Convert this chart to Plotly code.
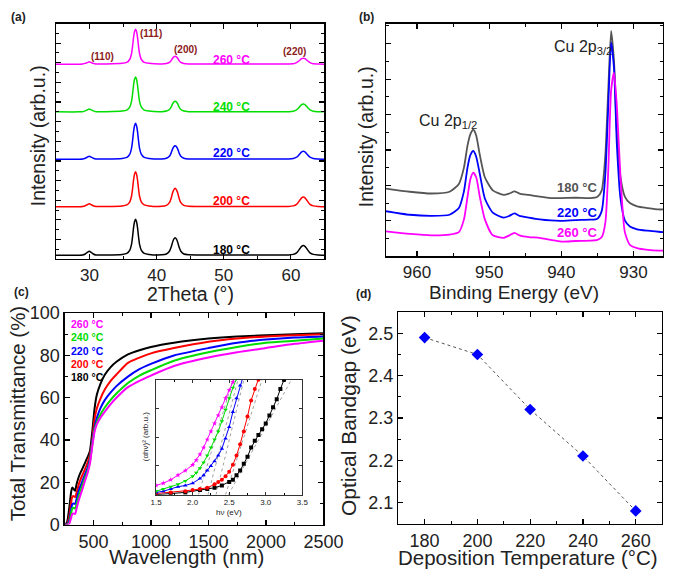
import plotly.graph_objects as go

W, H = 685, 580


def px(x):
    return x / W


def py(y):
    return 1 - y / H


FONT = "Liberation Sans, Arial, sans-serif"

# ---------------- data ----------------
temps = ["180 °C", "200 °C", "220 °C", "240 °C", "260 °C"]
colors = ["#000000", "#ff0000", "#0000ff", "#00dd00", "#ff00ff"]

# (a) XRD
two_theta = [25, 28.5, 28.95, 29.35, 29.65, 29.95, 30.25, 30.55, 30.95, 32.5,
             34.85, 35.55, 36.0, 36.25, 36.4, 36.55, 36.7, 36.85, 37.0, 37.15, 37.3, 37.45, 37.7,
             38.15, 38.85,
             40.75, 41.45, 41.9, 42.15, 42.35, 42.55, 42.75, 42.95, 43.15, 43.35, 43.6, 44.05, 44.75,
             47, 52, 57,
             59.65, 60.35, 60.85, 61.1, 61.35, 61.6, 61.85, 62.1, 62.35, 62.6, 62.85, 63.35, 64.05, 65]
xrd_180 = [0, 0, 0.01, 0.06, 0.14, 0.2, 0.14, 0.06, 0.01, 0.01,
           0.04, 0.09, 0.26, 0.55, 0.92, 1.39, 1.70, 1.83, 1.70, 1.39, 0.92, 0.55, 0.26, 0.09, 0.04,
           0.02, 0.06, 0.2, 0.4, 0.64, 0.82, 0.89, 0.82, 0.64, 0.4, 0.2, 0.06, 0.02,
           0.01, 0.01, 0.01,
           0.01, 0.04, 0.12, 0.22, 0.34, 0.45, 0.49, 0.45, 0.34, 0.22, 0.12, 0.04, 0.01, 0]
xrd_200 = [0, 0, 0.01, 0.05, 0.1, 0.15, 0.1, 0.05, 0.01, 0.01,
           0.04, 0.09, 0.25, 0.53, 0.89, 1.35, 1.66, 1.78, 1.66, 1.35, 0.89, 0.53, 0.25, 0.09, 0.04,
           0.02, 0.07, 0.21, 0.42, 0.68, 0.86, 0.94, 0.86, 0.68, 0.42, 0.21, 0.07, 0.02,
           0.01, 0.01, 0.01,
           0.01, 0.04, 0.12, 0.22, 0.34, 0.45, 0.49, 0.45, 0.34, 0.22, 0.12, 0.04, 0.01, 0]
xrd_220 = [0, 0, 0.01, 0.05, 0.1, 0.15, 0.1, 0.05, 0.01, 0.01,
           0.04, 0.09, 0.26, 0.55, 0.92, 1.39, 1.70, 1.83, 1.70, 1.39, 0.92, 0.55, 0.26, 0.09, 0.04,
           0.01, 0.05, 0.15, 0.31, 0.5, 0.63, 0.69, 0.63, 0.5, 0.31, 0.15, 0.05, 0.01,
           0.01, 0.01, 0.01,
           0.01, 0.03, 0.1, 0.18, 0.28, 0.37, 0.4, 0.37, 0.28, 0.18, 0.1, 0.03, 0.01, 0]
xrd_240 = [0, 0, 0.01, 0.05, 0.1, 0.15, 0.1, 0.05, 0.01, 0.01,
           0.04, 0.09, 0.25, 0.53, 0.89, 1.35, 1.66, 1.78, 1.66, 1.35, 0.89, 0.53, 0.25, 0.09, 0.04,
           0.01, 0.04, 0.12, 0.24, 0.39, 0.5, 0.54, 0.5, 0.39, 0.24, 0.12, 0.04, 0.01,
           0.01, 0.01, 0.01,
           0.01, 0.03, 0.1, 0.18, 0.28, 0.37, 0.4, 0.37, 0.28, 0.18, 0.1, 0.03, 0.01, 0]
xrd_260 = [0, 0, 0.01, 0.04, 0.08, 0.12, 0.08, 0.04, 0.01, 0.01,
           0.04, 0.09, 0.25, 0.53, 0.89, 1.35, 1.66, 1.78, 1.66, 1.35, 0.89, 0.53, 0.25, 0.09, 0.04,
           0.01, 0.03, 0.09, 0.18, 0.29, 0.37, 0.4, 0.37, 0.29, 0.18, 0.09, 0.03, 0.01,
           0.01, 0.01, 0.01,
           0.01, 0.02, 0.08, 0.14, 0.21, 0.28, 0.3, 0.28, 0.21, 0.14, 0.08, 0.02, 0.01, 0]
xrd_offsets = [0.2, 2.67, 5.09, 7.5, 9.93]
hkl_labels = ["(110)", "(111)", "(200)", "(220)"]
hkl_x = [31.9, 39.1, 44.3, 60.55]
hkl_y = [10.3, 11.5, 10.7, 10.6]
xrd_label_x = 51.2
xrd_label_y = [0.48, 2.94, 5.4, 7.77, 10.15]

# (b) XPS
binding_energy = [964.3, 961, 958, 955.5, 954.2, 953.5, 953.0, 952.6, 952.2, 951.8, 951.3, 950.6,
                  949.5, 948, 947.2, 946.5, 945.8, 944.5, 943, 941.5, 940, 938, 936, 935, 934.4,
                  933.9, 933.5, 933.1, 932.7, 932.3, 931.8, 931.2, 930.5, 929.5, 928, 926.5, 925.9]
xps_180 = [1.91, 1.82, 1.77, 1.82, 2.04, 2.50, 3.13, 3.45, 3.57, 3.41, 2.86, 2.23, 1.86, 1.73, 1.77,
           1.83, 1.77, 1.73, 1.68, 1.64, 1.64, 1.65, 1.64, 1.68, 1.86, 2.86, 4.68, 6.36, 5.50, 3.50,
           2.23, 1.68, 1.50, 1.41, 1.36, 1.32, 1.32]
xps_220 = [1.27, 1.17, 1.14, 1.17, 1.36, 1.83, 2.51, 2.86, 2.97, 2.81, 2.32, 1.63, 1.23, 1.09, 1.14,
           1.21, 1.14, 1.09, 1.04, 1.01, 1.00, 1.02, 1.03, 1.06, 1.28, 2.32, 4.22, 6.04, 5.31, 3.13,
           1.63, 1.01, 0.84, 0.76, 0.72, 0.69, 0.68]
xps_260 = [0.70, 0.63, 0.59, 0.61, 0.68, 1.04, 1.68, 2.18, 2.36, 2.23, 1.68, 1.04, 0.59, 0.52, 0.59,
           0.66, 0.59, 0.54, 0.52, 0.46, 0.41, 0.43, 0.44, 0.46, 0.54, 0.95, 2.41, 4.68, 5.18, 4.22,
           2.23, 0.68, 0.32, 0.23, 0.18, 0.16, 0.16]
xps_names = ["180 °C", "220 °C", "260 °C"]
xps_colors = ["#555555", "#0000ff", "#ff00ff"]
xps_label_y = [1.93, 1.23, 0.68]

# (c) transmittance
wavelength = [255, 270, 290, 305, 315, 325, 340, 355, 375, 400, 425, 450, 470, 490, 510, 530, 560,
              600, 650, 700, 800, 900, 1000, 1200, 1500, 1750, 2000, 2250, 2500]
T_180 = [0, 1, 8, 15, 17.5, 17, 16, 19.5, 23, 26, 29, 32, 35, 44, 55, 61.5, 66.5, 71, 74.5, 77,
         80.5, 82.5, 84, 86, 88, 89, 89.5, 90, 90.5]
T_200 = [0, 0, 4, 10, 13, 13.5, 13, 15.5, 19.5, 23, 26, 29.5, 33, 40, 50, 55, 59.5, 64, 68, 71, 76.5,
         79, 81, 83.5, 86.5, 88, 89, 89.6, 90]
T_220 = [0, 0, 2, 7, 9.5, 10, 9.8, 12.5, 16.5, 20, 23.5, 27, 31, 39, 46, 50.5, 55, 59, 62.5, 65.5,
         70, 73.5, 76, 80, 83.5, 86, 87.5, 88.5, 89]
T_240 = [0, 0, 1, 5, 7.5, 8, 7.6, 10, 14, 18, 22, 25.5, 30, 38, 45, 48.5, 52, 55.5, 59, 62, 67, 70.5,
         73, 77.5, 81.5, 84, 86, 87, 88]
T_260 = [0, 0, 0.5, 3, 5, 5.3, 5, 8, 12, 16, 20.5, 24.5, 29, 37, 44, 47.5, 50.5, 53.5, 57, 60, 65,
         68, 70.5, 75, 79, 81.5, 83.5, 85.5, 87]

# (c) inset Tauc plot
E_180 = [1.5, 1.7, 1.9, 2.1, 2.2, 2.3, 2.4, 2.5, 2.55, 2.6, 2.65, 2.7, 2.75, 2.8, 2.85, 2.9, 2.95,
         3.0, 3.05, 3.1, 3.15, 3.2, 3.25, 3.3]
A_180 = [0.0, 0.01, 0.02, 0.04, 0.05, 0.06, 0.08, 0.11, 0.13, 0.17, 0.21, 0.27, 0.33, 0.41, 0.47,
         0.52, 0.57, 0.62, 0.69, 0.76, 0.83, 0.92, 1.0, 1.08]
E_200 = [1.5, 1.7, 1.9, 2.0, 2.1, 2.2, 2.3, 2.35, 2.4, 2.45, 2.5, 2.55, 2.6, 2.65, 2.7, 2.75, 2.8,
         2.85, 2.9, 2.95]
A_200 = [0.01, 0.02, 0.03, 0.04, 0.05, 0.06, 0.09, 0.11, 0.13, 0.16, 0.20, 0.26, 0.34, 0.44, 0.55,
         0.68, 0.82, 0.92, 1.0, 1.1]
E_220 = [1.5, 1.6, 1.7, 1.8, 1.9, 2.0, 2.1, 2.15, 2.2, 2.25, 2.3, 2.35, 2.4, 2.45, 2.5, 2.55, 2.6,
         2.65, 2.7]
A_220 = [0.02, 0.03, 0.05, 0.07, 0.08, 0.10, 0.14, 0.17, 0.21, 0.25, 0.29, 0.34, 0.40, 0.49, 0.59,
         0.72, 0.84, 0.95, 1.05]
E_240 = [1.5, 1.6, 1.7, 1.8, 1.9, 2.0, 2.05, 2.1, 2.15, 2.2, 2.25, 2.3, 2.35, 2.4, 2.45, 2.5, 2.55,
         2.6, 2.65]
A_240 = [0.03, 0.05, 0.07, 0.09, 0.12, 0.16, 0.19, 0.23, 0.28, 0.34, 0.41, 0.48, 0.55, 0.64, 0.74,
         0.84, 0.93, 1.01, 1.1]
E_260 = [1.5, 1.6, 1.7, 1.8, 1.9, 2.0, 2.05, 2.1, 2.15, 2.2, 2.25, 2.3, 2.35, 2.4, 2.45, 2.5, 2.55,
         2.6]
A_260 = [0.08, 0.10, 0.13, 0.17, 0.21, 0.26, 0.30, 0.35, 0.41, 0.48, 0.55, 0.62, 0.69, 0.76, 0.84,
         0.91, 0.98, 1.05]
tauc_symbols = ["square", "circle", "triangle-up", "triangle-down", "star"]
fit_start = [2.49, 2.45, 2.32, 2.21, 2.08]
fit_end = [3.35, 2.95, 2.70, 2.62, 2.55]

# (d) bandgap
dep_temp = [180, 200, 220, 240, 260]
bandgap = [2.49, 2.45, 2.32, 2.21, 2.08]

# ---------------- figure ----------------
fig = go.Figure()

xrd_sets = [xrd_180, xrd_200, xrd_220, xrd_240, xrd_260]
for ys, off, c, n in zip(xrd_sets, xrd_offsets, colors, temps):
    fig.add_trace(go.Scatter(x=two_theta, y=[v + off for v in ys], mode="lines",
                             line=dict(color=c, width=1.5, shape="spline", smoothing=0.5),
                             name=n, xaxis="x", yaxis="y", showlegend=False))

for ys, c, n in zip([xps_180, xps_220, xps_260], xps_colors, xps_names):
    fig.add_trace(go.Scatter(x=binding_energy, y=ys, mode="lines",
                             line=dict(color=c, width=1.8, shape="spline", smoothing=0.6),
                             name=n, xaxis="x2", yaxis="y2", showlegend=False))

T_sets = [T_180, T_200, T_220, T_240, T_260]
for ys, c, n in zip(T_sets, colors, temps):
    fig.add_trace(go.Scatter(x=wavelength, y=ys, mode="lines",
                             line=dict(color=c, width=2, shape="spline", smoothing=0.6),
                             name=n, xaxis="x3", yaxis="y3", showlegend=False))

for s, e in zip(fit_start, fit_end):
    fig.add_trace(go.Scatter(x=[s, e], y=[0, 1], mode="lines",
                             line=dict(color="#888888", width=0.8, dash="dot"),
                             xaxis="x5", yaxis="y5", showlegend=False, hoverinfo="skip"))

tauc = [(E_180, A_180), (E_200, A_200), (E_220, A_220), (E_240, A_240), (E_260, A_260)]
for (ex, ay), c, sym, n in zip(tauc, colors, tauc_symbols, temps):
    fig.add_trace(go.Scatter(x=ex, y=ay, mode="lines+markers",
                             line=dict(color=c, width=1),
                             marker=dict(color=c, symbol=sym, size=4),
                             name=n, xaxis="x5", yaxis="y5", showlegend=False, cliponaxis=True))

fig.add_trace(go.Scatter(x=dep_temp, y=bandgap, mode="lines+markers",
                         line=dict(color="#555555", width=1, dash="dot"),
                         marker=dict(color="#0000ff", symbol="diamond", size=9),
                         xaxis="x4", yaxis="y4", showlegend=False))


def ax(**kw):
    base = dict(showline=True, linecolor="black", linewidth=1.3, mirror="ticks",
                ticks="inside", ticklen=5, tickwidth=1.2, tickcolor="black",
                showgrid=False, zeroline=False,
                tickfont=dict(size=17, color="#222222", family=FONT))
    base.update(kw)
    return base


def minor(d, ln=3):
    return dict(dtick=d, ticks="inside", ticklen=ln, tickwidth=1, tickcolor="black", showgrid=False)


TF18 = dict(size=18, color="#222222", family=FONT)

fig.update_layout(
    width=W, height=H, margin=dict(l=0, r=0, t=0, b=0),
    paper_bgcolor="white", plot_bgcolor="white",
    font=dict(family=FONT, color="#222222"),
    xaxis=ax(domain=[px(52), px(331)], range=[25, 65], dtick=10, tick0=0,
             minor=minor(5), anchor="y"),
    yaxis=ax(domain=[py(258), py(14)], range=[0, 12], dtick=1, tick0=0,
             showticklabels=False, minor=minor(0.5), anchor="x"),
    xaxis2=ax(domain=[px(395), px(683)], range=[964.3, 925.9], dtick=10, tick0=0,
              minor=minor(5), anchor="y2"),
    yaxis2=ax(domain=[py(255), py(14)], range=[0, 6.57], dtick=1, tick0=0,
              showticklabels=False, minor=minor(0.5), anchor="x2"),
    xaxis3=ax(domain=[px(61), px(330)], range=[250, 2500], dtick=500, tick0=0,
              minor=minor(250), anchor="y3", tickfont=TF18),
    yaxis3=ax(domain=[py(533), py(314)], range=[0, 100], dtick=20, tick0=0,
              minor=minor(10), anchor="x3", tickfont=TF18),
    xaxis4=ax(domain=[px(407.7), px(682)], range=[170, 270], dtick=20, tick0=0,
              minor=minor(10), anchor="y4", tickfont=TF18),
    yaxis4=ax(domain=[py(532), py(313)], range=[2.05, 2.55], dtick=0.1, tick0=2.0,
              tickformat=".1f", minor=minor(0.05), anchor="x4", tickfont=TF18),
    xaxis5=ax(domain=[px(156), px(308)], range=[1.5, 3.5], dtick=0.5, tick0=0, tickformat=".1f",
              ticklen=3, linewidth=0.8, tickwidth=0.8, minor=minor(0.25, 2), anchor="y5",
              tickfont=dict(size=8, color="#222222", family=FONT)),
    yaxis5=ax(domain=[py(502), py(383)], range=[0, 1], dtick=0.25, tick0=0,
              ticklen=3, linewidth=0.8, tickwidth=0.8, showticklabels=False, anchor="x5"),
)

ann = []


def text(x, y, s, size, color="#222222", bold=False, angle=0, xanchor="center"):
    if bold:
        s = "<b>" + s + "</b>"
    ann.append(dict(x=x, y=y, xref="paper", yref="paper", text=s, showarrow=False,
                    textangle=angle, xanchor=xanchor, yanchor="middle",
                    font=dict(size=size, color=color, family=FONT)))


# panel letters
text(px(13), py(7), "(a)", 12, bold=True)
text(px(375), py(7), "(b)", 12, bold=True)
text(px(16), py(292), "(c)", 12, bold=True)
text(px(372), py(294), "(d)", 12, bold=True)

# axis titles
text(px(33), py(130), "Intensity (arb.u.)", 19.5, angle=-90)
text(px(192), py(294), "2Theta (°)", 19.5)
text(px(375), py(131), "Intensity (arb.u.)", 19.5, angle=-90)
text(px(528), py(293), "Binding Energy (eV)", 19)
text(px(12), py(418), "Total Transmittance (%)", 20.5, angle=-90)
text(px(188), py(566), "Wavelength (nm)", 20.5)
text(px(356), py(420), "Optical Bandgap (eV)", 21, angle=-90)
text(px(543), py(567), "Deposition Temperature (°C)", 20.5)

# inset titles
text(px(232), py(520), "hν (eV)", 8)
text(px(145), py(442), "(αhν)² (arb.u.)", 8, angle=-90)

# XRD labels
for t, c, yy in zip(temps, colors, xrd_label_y):
    ann.append(dict(x=xrd_label_x, y=yy, xref="x", yref="y", text="<b>" + t + "</b>",
                    showarrow=False, font=dict(size=12, color=c, family=FONT)))
for lab, hx, hy in zip(hkl_labels, hkl_x, hkl_y):
    ann.append(dict(x=hx, y=hy, xref="x", yref="y", text="<b>" + lab + "</b>",
                    showarrow=False, font=dict(size=10, color="#8b1a1a", family=FONT)))

# XPS labels
for t, c, yy in zip(xps_names, xps_colors, xps_label_y):
    ann.append(dict(x=937.8, y=yy, xref="x2", yref="y2", text="<b>" + t + "</b>",
                    showarrow=False, font=dict(size=13, color=c, family=FONT)))
ann.append(dict(x=955.7, y=3.8, xref="x2", yref="y2", text="Cu 2p<sub>1/2</sub>",
                showarrow=False, font=dict(size=16, color="#222222", family=FONT)))
ann.append(dict(x=937.0, y=5.9, xref="x2", yref="y2", text="Cu 2p<sub>3/2</sub>",
                showarrow=False, font=dict(size=16, color="#222222", family=FONT)))

# transmittance legend
for t, c, yy in zip(temps, colors, [380, 367, 353, 339, 325]):
    ann.append(dict(x=px(65), y=py(yy), xref="paper", yref="paper", text="<b>" + t + "</b>",
                    showarrow=False, xanchor="left", yanchor="middle",
                    font=dict(size=10.5, color=c, family=FONT)))

fig.update_layout(annotations=ann)

# page-margin reset, run synchronously right after Plotly.newPlot is called
SYNC_RESET = ("}); "
              "document.documentElement.style.margin='0';"
              "document.documentElement.style.overflow='hidden';"
              "document.body.style.margin='0';document.body.style.padding='0';"
              "document.body.style.overflow='hidden';"
              " (function(){")

fig.write_html(
    "out.html",
    config={"displayModeBar": False, "staticPlot": True},
    post_script=SYNC_RESET,
)
